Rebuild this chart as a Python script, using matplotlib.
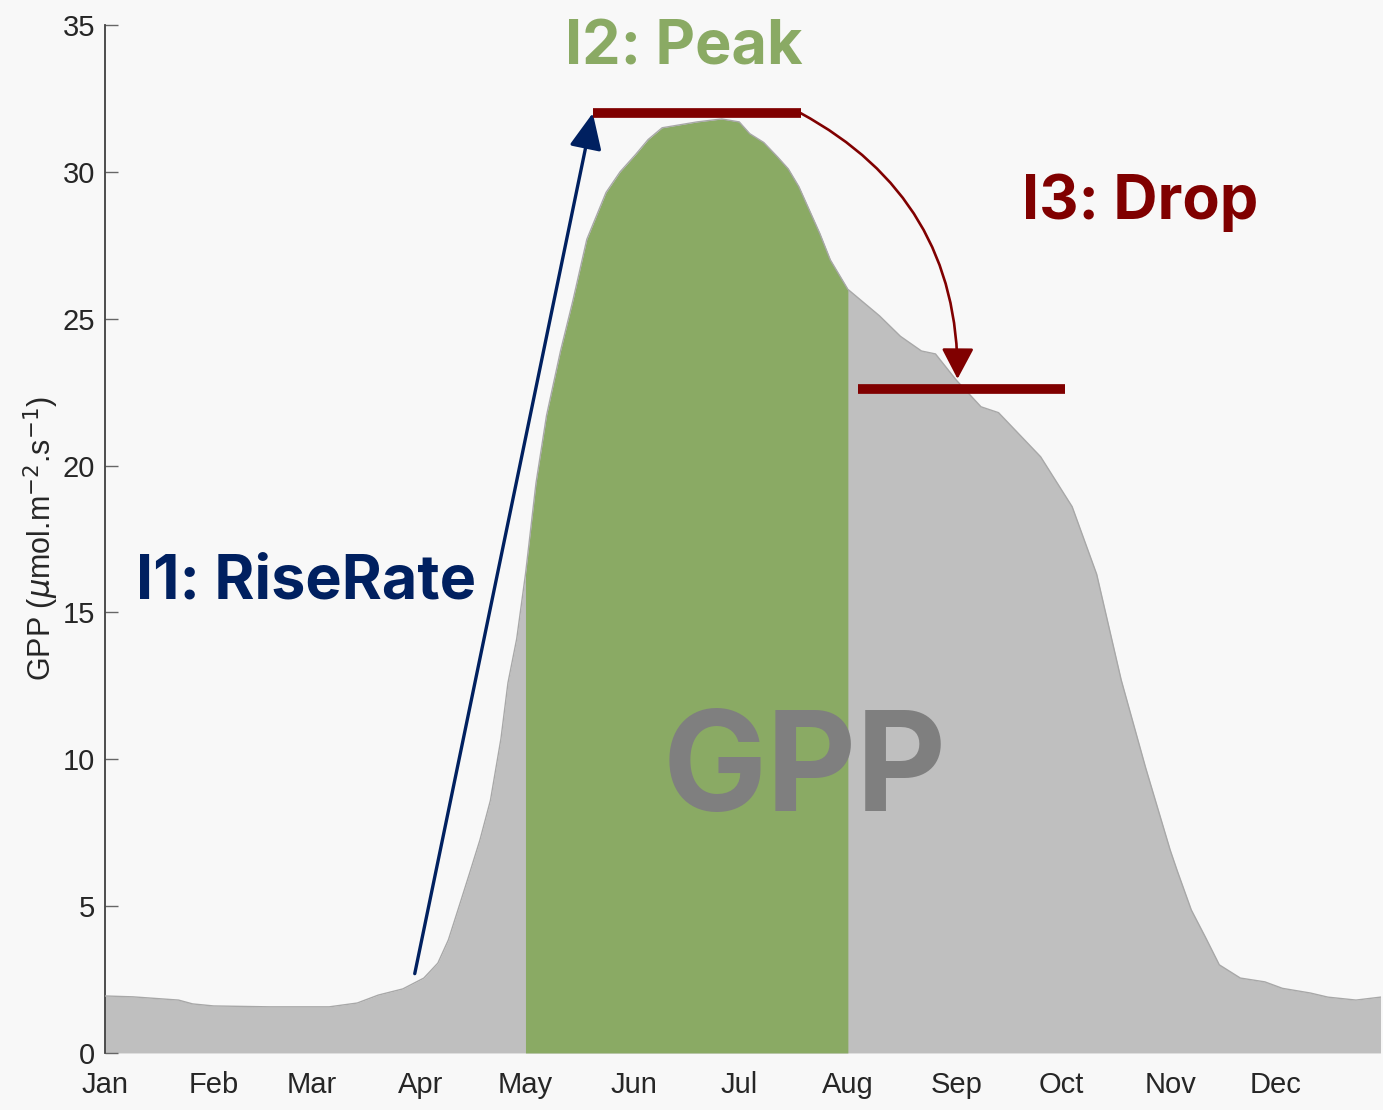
import numpy as np
import matplotlib.pyplot as plt
from matplotlib.patches import FancyArrowPatch

# Seasonal GPP curve (day of year, umol m-2 s-1)
doy = np.array([1, 9, 22, 26, 32, 48, 60, 65, 73, 79,
                86, 92, 96, 99, 102, 105, 108, 111, 114, 116,
                118.5, 121, 124, 127, 131, 134.5, 138.5, 144, 148, 152.5,
                156, 160, 170, 177, 182, 185, 189, 193, 196, 199,
                202, 205, 208, 212, 213, 218, 222, 228, 234, 238,
                244, 251, 256, 260, 268, 277, 284, 291, 298, 305,
                307, 311, 315, 319, 325, 332, 337, 345, 350, 358,
                365])
gpp = np.array([1.94, 1.91, 1.80, 1.67, 1.60, 1.57, 1.57, 1.57, 1.70, 1.97,
                2.18, 2.55, 3.06, 3.85, 4.97, 6.1, 7.25, 8.6, 10.7, 12.6,
                14.1, 16.3, 19.4, 21.7, 23.9, 25.6, 27.7, 29.3, 30.0, 30.6,
                31.1, 31.5, 31.7, 31.8, 31.7, 31.3, 31.0, 30.5, 30.1, 29.5,
                28.7, 27.9, 27.0, 26.2, 26.0, 25.5, 25.1, 24.4, 23.9, 23.8,
                22.9, 22.0, 21.8, 21.3, 20.3, 18.6, 16.3, 12.7, 9.7, 6.9,
                6.2, 4.87, 3.95, 3.0, 2.55, 2.42, 2.2, 2.04, 1.9, 1.8,
                1.9])

month_start = [1, 32, 60, 91, 121, 152, 182, 213, 244, 274, 305, 335]
month_names = ['Jan', 'Feb', 'Mar', 'Apr', 'May', 'Jun',
               'Jul', 'Aug', 'Sep', 'Oct', 'Nov', 'Dec']
yticks = [0, 5, 10, 15, 20, 25, 30, 35]

# peak window (May-Jul)
peak_start, peak_end = 121, 213

# indicator marks
rise_from = (89.4, 2.7)
rise_to = (140.2, 32.0)
peak_bar = [140.2, 199.5]
peak_level = 32.0
drop_bar = [216, 275]
drop_level = 22.6
drop_tip = (244.3, 22.95)

bg = '#f8f8f8'
fig = plt.figure(figsize=(13.83, 11.10), dpi=100, facecolor=bg)
ax = fig.add_axes([0.0759, 0.0514, 0.9223, 0.9261], facecolor=bg)

ax.fill_between(doy, gpp, 0, color='#bfbfbf', lw=0, zorder=1)
in_peak = (doy >= peak_start) & (doy <= peak_end)
ax.fill_between(doy, gpp, 0, where=in_peak, color='#8aaa64', lw=0, zorder=2)
ax.plot(doy, gpp, color='#a8a8a8', lw=1.0, zorder=3)

# I1 arrow
ax.annotate('', xy=rise_to, xytext=rise_from,
            arrowprops=dict(arrowstyle='-|>,head_length=1.1,head_width=0.5',
                            color='#002060', lw=2.4, mutation_scale=20,
                            shrinkA=0, shrinkB=0), zorder=5)

# I2 / I3 bars
ax.plot(peak_bar, [peak_level, peak_level], color='#800000', lw=7,
        solid_capstyle='butt', zorder=6)
ax.plot(drop_bar, [drop_level, drop_level], color='#800000', lw=7,
        solid_capstyle='butt', zorder=6)

drop_arrow = FancyArrowPatch((peak_bar[1], peak_level), drop_tip,
                             connectionstyle='arc3,rad=-0.3',
                             arrowstyle='-|>,head_length=0.95,head_width=0.5',
                             mutation_scale=20, color='#800000', lw=1.9,
                             shrinkA=0, shrinkB=0, zorder=6)
ax.add_patch(drop_arrow)

lab_font = 'Inter'
ax.text(166.1, 33.67, 'I2: Peak', color='#8aaa64', fontsize=44,
        fontweight='bold', family=lab_font, ha='center', va='baseline')
ax.text(262.6, 28.4, 'I3: Drop', color='#800000', fontsize=44,
        fontweight='bold', family=lab_font, ha='left', va='baseline')
ax.text(9.8, 15.46, 'I1: RiseRate', color='#002060', fontsize=44,
        fontweight='bold', family=lab_font, ha='left', va='baseline')
ax.text(200.8, 8.24, 'GPP', color='#7f7f7f', fontsize=100,
        fontweight='bold', family=lab_font, ha='center', va='baseline',
        zorder=7)

ax.set_xlim(1, 365)
ax.set_ylim(0, 35)
ax.set_xticks(month_start)
ax.set_xticklabels(month_names)
ax.set_yticks(yticks)
ax.set_yticklabels([str(v) for v in yticks])
ax.tick_params(axis='x', length=0, pad=13, labelsize=21, labelcolor='#262626')
ax.tick_params(axis='y', direction='in', length=9, width=1, color='#666666',
               pad=7, labelsize=21, labelcolor='#262626')
for lab in ax.get_xticklabels() + ax.get_yticklabels():
    lab.set_family('Liberation Sans')

for s in ['top', 'right', 'bottom']:
    ax.spines[s].set_visible(False)
ax.spines['left'].set_color('#404040')
ax.spines['left'].set_linewidth(1.3)

ax.set_ylabel(r'GPP ($\mu$mol.m$^{-2}$.s$^{-1}$)', fontsize=22,
              color='#262626', family='Liberation Sans', labelpad=1)

fig.savefig('out.png', dpi=100, facecolor=bg)
